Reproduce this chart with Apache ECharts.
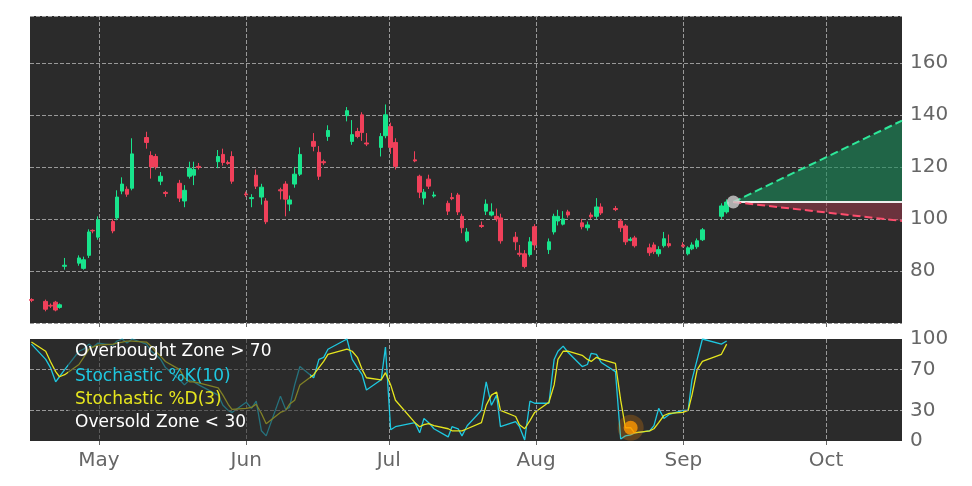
<!DOCTYPE html>
<html><head><meta charset="utf-8">
<script src="https://cdn.jsdelivr.net/npm/echarts@6/dist/echarts.min.js"></script>
<style>html,body{margin:0;background:#fff}#c{width:972px;height:486px}</style></head>
<body><div id="c"></div>
<script>
// days since May 1
const dayOffsets=[-14.2,-11.2,-10.2,-9.1,-8.3,-7.2,-4.2,-3.2,-2.1,-1.3,-0.2,3.0,3.8,4.9,5.9,7.0,10.0,11.0,11.9,13.0,14.0,17.0,18.0,19.1,20.0,21.0,25.1,26.1,27.2,28.0,31.0,32.1,33.1,34.2,35.2,38.2,39.3,40.1,41.2,42.3,45.2,46.3,47.3,48.2,52.2,53.3,54.4,55.4,56.3,59.4,60.3,61.4,62.4,66.5,67.5,68.4,69.4,70.5,73.5,74.3,75.6,76.4,77.5,80.5,81.5,82.6,83.7,84.5,87.7,88.5,89.6,90.7,91.7,94.7,95.8,96.6,97.7,98.7,101.7,102.8,103.6,104.7,105.7,108.7,109.8,110.8,111.9,112.7,115.9,116.8,117.8,118.9,120.0,122.9,124.0,124.8,125.9,127.0,131.0,132.1];
const opens=[69,68.3,66.8,68,66,81.8,83,81,86,95.6,93,99,100.4,110.7,111.4,111.8,131.3,124.4,124,114.5,110.2,113.7,106.9,116.4,116.8,120.2,122,124.8,121.7,124,109.6,107.8,116.8,108.4,106.9,111.2,113.4,105.7,113.4,117.2,129.8,125.6,122,131.7,139.7,129.8,133.6,140,129.2,127.5,132,135.5,129.4,122.7,116.4,108,115.3,108.8,106,108.2,109.2,101,91.6,97.5,103,101.5,101,100.4,93,86.8,86.6,86.3,97,88.2,95,99.2,98,102.7,98.5,96.6,101.5,101,104.6,104,99.2,97.3,91.8,92.7,88.9,90,86.6,89.7,90.5,89.9,86.6,88.5,89.3,92,101,102.7];
const closes=[68.7,65.3,66.5,65,67,82.2,85,84.3,95,95.4,99.6,95.4,108.4,113.4,109.5,125,129.4,120,120,116.4,109.8,108,111,119.5,119,119.8,124,121.7,121.3,114.5,109.3,108.2,112.6,112.2,98.9,110.8,107.6,107.3,117.2,124.8,127.9,116.4,121.6,134,141.6,132.4,131.7,133.2,128.8,131.7,140,127.5,120.2,122.3,110.3,110.3,112.6,109.2,103,107.8,102.7,96.6,95,97.1,105.7,102.7,100,91.6,91.2,86.4,81.7,91.2,90,91.2,101,101,100,101.5,97,97.7,100.8,104.6,102.3,103.6,96.6,91.2,92.2,89.7,87,87.4,88.2,92.4,89.7,89.5,88.9,90,91.6,95.8,105,106.5];
const highs=[69.5,69,67.5,68.5,67.5,85,86,85.5,96,96,101,100,111,116,112.5,131,133.5,126,125,118,110.8,115,113,122,122,121.5,126.5,127,122.5,126,110.5,109.5,119,113.5,108,112,114.5,109,120,127.5,133,128,122.8,136,143,138,135,141,133,133,144,137,131,126,117,111.5,117,110.5,107,110,110,102,96.5,99,107.5,106,104,102,95,90,88,93,98,92.5,102,103.5,103,103.5,100,99,102.5,108,106,105,100,98,93,93.5,90.5,91,89.5,95,94,91,89.5,91,92.5,96.5,106,107.5];
const lows=[68,64.5,65.8,64.5,65.5,80.5,82,80.5,85,94.5,92,94.5,99.5,109.5,108.5,111,127,115.5,119,113,108.5,106.5,104.5,115.5,113,119,119.5,120.5,120.8,113.5,108.5,104.5,111.5,105.5,98,107.5,101,103,112,116.5,126,115,120.8,130,137.5,128.5,131,130,128,124,131,125,119,121.8,108,105.5,111.5,108.2,101.5,107.2,101.5,94.5,91,96.5,101.5,101,99,90.5,88,85.5,81,85.5,88,86.5,94,97.5,97.5,100.5,96,95.5,100,100,101.5,103,95,90,91.4,89,85.8,86.5,85.5,89,89,89,86,88,88.5,91.5,100,102];
const stochK=[95,80,72,58,63,70,88,90,95,92,96,94,98,100,96,100,95,88,85,80,72,60,55,60,58,55,45,35,30,28,38,32,39,10,5,44,31,33,55,73,62,80,82,90,100,80,72,65,50,60,92,11,14,18,8,22,18,12,4,14,12,5,15,30,58,35,45,14,19,14,1,39,37,37,80,88,93,87,73,75,86,85,77,68,2,5,6,8,10,15,32,22,26,30,30,60,80,100,95,98];
const stochD=[97,88,78,68,63,65,75,82,90,92,94,95,96,97,98,98,97,93,88,83,78,70,62,58,58,57,52,45,36,31,32,33,36,27,17,28,30,36,40,55,65,72,78,85,90,88,82,70,62,60,67,55,40,18,14,16,17,15,12,10,10,10,12,18,35,45,48,30,24,16,12,20,28,38,55,80,88,88,84,80,78,82,80,76,40,13,13,8,10,12,18,25,27,28,30,45,70,78,85,95];
const monthTicks=[0,31,61,92,123,153];
const monthNames=['May','Jun','Jul','Aug','Sep','Oct'];
const fcStart=[133.5,106.5];
const fcUpperEnd=[169,137.8];
const fcLowerEnd=[169,99.2];
const signalPoint=[111.9,13];

const candles=dayOffsets.map((d,i)=>[d,opens[i],closes[i],lows[i],highs[i]]);
const xMin=-14.5,xMax=169;
const txt='#666';
const F='"DejaVu Sans"';
const chart=echarts.init(document.getElementById('c'));
const xBase={type:'value',min:xMin,max:xMax,axisLine:{show:false},
  axisTick:{show:true,customValues:monthTicks,length:4,lineStyle:{color:'#666'}},
  splitLine:{show:true,lineStyle:{type:'dashed',color:'#999',width:1}}};
function poly(endPt,fill){
  return function(params,api){
    const a=api.coord(fcStart),b=api.coord([endPt[0],fcStart[1]]),c=api.coord(endPt);
    return {type:'polygon',shape:{points:[a,b,c]},style:{fill:fill}};
  };
}
chart.setOption({
  backgroundColor:'#fff',animation:false,
  grid:[{left:30,right:70,top:16,height:307,backgroundColor:'#2b2b2b',show:true,borderWidth:0},
        {left:30,right:70,top:339,height:102,backgroundColor:'#2b2b2b',show:true,borderWidth:0}],
  xAxis:[Object.assign({gridIndex:0,axisLabel:{show:false,customValues:monthTicks}},xBase),
         Object.assign({gridIndex:1,axisLabel:{show:true,customValues:monthTicks,color:txt,fontSize:20,fontFamily:F,margin:10,
           formatter:v=>monthNames[monthTicks.indexOf(Math.round(v))]||''}},xBase)],
  yAxis:[{gridIndex:0,type:'value',position:'right',min:60,max:178,interval:20,
          axisLine:{show:false},axisTick:{show:false},
          axisLabel:{color:txt,fontSize:20,fontFamily:F,margin:8,formatter:v=>(v>=80&&v<=160)?v:''},
          splitLine:{show:true,lineStyle:{type:'dashed',color:'#999'}}},
         {gridIndex:1,type:'value',position:'right',min:0,max:100,
          axisLine:{show:false},axisTick:{show:false},
          axisLabel:{color:txt,fontSize:20,fontFamily:F,margin:8,customValues:[0,30,70,100]},
          splitLine:{show:false}}],
  series:[
    {type:'candlestick',xAxisIndex:0,yAxisIndex:0,data:candles,barWidth:4,
     encode:{x:0,y:[1,2,3,4]},
     itemStyle:{color:'#18e48c',color0:'#f0405a',borderColor:'#18e48c',borderColor0:'#f0405a',borderWidth:1}},
    {type:'custom',xAxisIndex:0,yAxisIndex:0,data:[0],renderItem:poly(fcUpperEnd,'rgba(25,140,90,0.6)'),z:2},
    {type:'custom',xAxisIndex:0,yAxisIndex:0,data:[0],renderItem:poly(fcLowerEnd,'rgba(170,60,80,0.5)'),z:2},
    {type:'line',xAxisIndex:0,yAxisIndex:0,symbol:'none',data:[fcStart,[fcUpperEnd[0],fcStart[1]]],lineStyle:{color:'#eee',width:2},z:3},
    {type:'line',xAxisIndex:0,yAxisIndex:0,symbol:'none',data:[fcStart,fcUpperEnd],lineStyle:{color:'#2ee89a',width:2,type:'dashed'},z:3},
    {type:'line',xAxisIndex:0,yAxisIndex:0,symbol:'none',data:[fcStart,fcLowerEnd],lineStyle:{color:'#ff4d6d',width:2,type:'dashed'},z:3},
    {type:'scatter',xAxisIndex:0,yAxisIndex:0,data:[fcStart],symbolSize:13,itemStyle:{color:'#d0d0d0'},z:10},
    {type:'line',xAxisIndex:1,yAxisIndex:1,symbol:'none',data:dayOffsets.map((d,i)=>[d,stochK[i]]),lineStyle:{color:'#1ec8e0',width:1.3},
     markLine:{silent:true,symbol:'none',label:{show:false},lineStyle:{type:'dashed',color:'#999',width:1},data:[{yAxis:30},{yAxis:70}]}},
    {type:'line',xAxisIndex:1,yAxisIndex:1,symbol:'none',data:dayOffsets.map((d,i)=>[d,stochD[i]]),lineStyle:{color:'#e6e61e',width:1.3}},
    {type:'scatter',xAxisIndex:1,yAxisIndex:1,data:[signalPoint],symbolSize:26,itemStyle:{color:'rgba(255,140,0,0.3)'},z:9},
    {type:'scatter',xAxisIndex:1,yAxisIndex:1,data:[signalPoint],symbolSize:14,itemStyle:{color:'#ff9900'},z:10}
  ],
  graphic:[
    {type:'rect',left:68,top:339,shape:{width:242,height:101},style:{fill:'rgba(43,43,43,0.55)'},z:100},
    {type:'text',left:75,top:343,style:{text:'Overbought Zone > 70',fill:'#fff',font:'17px "DejaVu Sans"'},z:101},
    {type:'text',left:75,top:368,style:{text:'Stochastic %K(10)',fill:'#1ec8e0',font:'17px "DejaVu Sans"'},z:101},
    {type:'text',left:75,top:391,style:{text:'Stochastic %D(3)',fill:'#e6e61e',font:'17px "DejaVu Sans"'},z:101},
    {type:'text',left:75,top:414,style:{text:'Oversold Zone < 30',fill:'#fff',font:'17px "DejaVu Sans"'},z:101}
  ]
});
</script></body></html>
